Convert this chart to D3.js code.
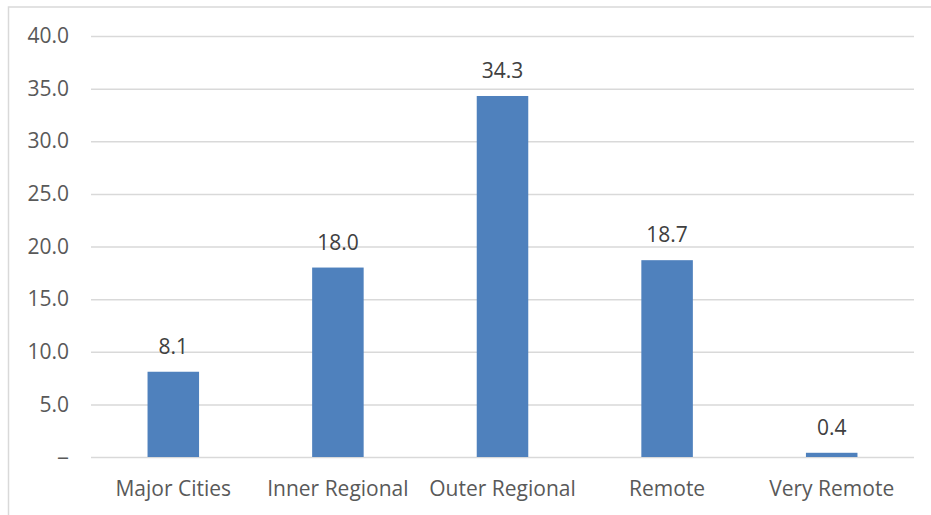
<!DOCTYPE html>
<html lang="en">
<meta charset="UTF-8">
<style>
body { margin: 0; background: #fff; }
svg text { font-family: "Open Sans", sans-serif; }
.axis path.domain { stroke: none; }
.axis.y line { stroke: #d9d9d9; stroke-width: 1.5; }
.axis text { fill: #595959; font-size: 21px; }
.value { fill: #404040; font-size: 21px; }
</style>
<body>
<script src="https://d3js.org/d3.v7.min.js"></script>
<script>
var categories = ["Major Cities", "Inner Regional", "Outer Regional", "Remote", "Very Remote"]
var values = [8.1, 18.0, 34.3, 18.7, 0.4]
var yTicks = [0, 5, 10, 15, 20, 25, 30, 35, 40]

var W = 931, H = 515
var margin = { top: 36, right: 17, bottom: 58, left: 91 }
var width = W - margin.left - margin.right,
  height = H - margin.top - margin.bottom

var svg = d3.select("body").append("svg")
  .attr("width", W)
  .attr("height", H)

// chart frame (only top and left edges are in the picture)
svg.append("rect")
  .attr("x", 8.5).attr("y", 7)
  .attr("width", 940).attr("height", 540)
  .attr("fill", "none")
  .attr("stroke", "#d9d9d9")
  .attr("stroke-width", 1.5)

var g = svg.append("g")
  .attr("transform", "translate(" + margin.left + "," + margin.top + ")")

var x = d3.scaleBand()
  .domain(categories)
  .range([0, width])
  .paddingInner(0.687)
  .paddingOuter(0.3435)

var y = d3.scaleLinear()
  .domain([0, 40])
  .range([height, 0])

var yAxis = d3.axisLeft(y)
  .tickValues(yTicks)
  .tickSize(-width)
  .tickPadding(22)
  .tickFormat(function(d) { return d === 0 ? "\u2013" : d3.format(".1f")(d) })

g.append("g")
  .attr("class", "axis y")
  .call(yAxis)

// widen the zero dash a little
g.selectAll(".axis.y .tick text")
  .filter(function(d) { return d === 0 })
  .attr("textLength", 12)
  .attr("lengthAdjust", "spacingAndGlyphs")

var xAxis = d3.axisBottom(x).tickSize(0).tickPadding(24)

g.append("g")
  .attr("class", "axis x")
  .attr("transform", "translate(0," + height + ")")
  .call(xAxis)

g.selectAll(".bar")
  .data(values)
  .enter()
  .append("rect")
  .attr("class", "bar")
  .attr("x", function(d, i) { return x(categories[i]) })
  .attr("width", x.bandwidth())
  .attr("y", function(d) { return y(d) })
  .attr("height", function(d) { return height - y(d) })
  .attr("fill", "#4f81bd")

g.selectAll(".value")
  .data(values)
  .enter()
  .append("text")
  .attr("class", "value")
  .attr("text-anchor", "middle")
  .attr("x", function(d, i) { return x(categories[i]) + x.bandwidth() / 2 })
  .attr("y", function(d) { return y(d) - 18 })
  .text(function(d) { return d3.format(".1f")(d) })
</script>
</body>
</html>
